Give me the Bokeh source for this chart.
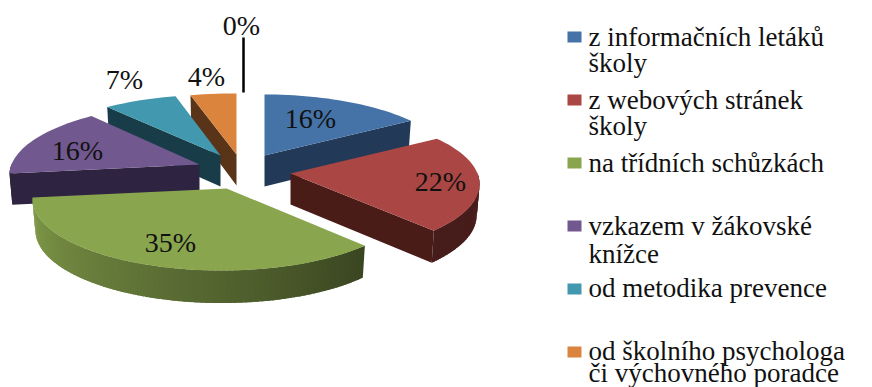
import math
from bokeh.core.properties import value
from bokeh.embed import file_html
from bokeh.models import ColumnDataSource, Range1d
from bokeh.plotting import figure
from bokeh.resources import INLINE

# Survey shares, in percent, clockwise from twelve o'clock
shares = [16, 22, 35, 16, 7, 4, 0]
share_labels = [f"{s}%" for s in shares]
legend_entries = [
    ["z informačních letáků", "školy"],
    ["z webových stránek", "školy"],
    ["na třídních schůzkách"],
    ["vzkazem v žákovské", "knížce"],
    ["od metodika prevence"],
    ["od školního psychologa", "či výchovného poradce"],
]

# Palette: top face and the darker radial wall of each slice
top_colors = ["#4573A7", "#AA4643", "#89A54E", "#71588F", "#4198AF", "#DB843D"]
wall_colors = ["#223A57", "#4A1C18", "#3A4520", "#2E2340", "#193D48", "#5A3419"]
# Brightness of the rim at the start and end of each slice's sweep
rim_shade = [(.5, .5), (.42, .42), (.42, .95), (.42, .42), (.42, .42), (.42, .42)]

# Pie layout in page pixels
W, H = 872, 387
CX, CY = 245, 165
RX, RY, PERSP = 187, 70, 0.147
DEPTH = 31
PULL_X = [19, 45, -19, -46, -25, -9]
PULL_Y = [-10, 8, 23, -1, -10, -11]
ARC_SHIFT = [0, 0, -5, -1, -3, 0]
ARC_WIDEN = [1, 1, 1, 1, 1.03, 1.13]
DRAW_ORDER = [5, 0, 4, 3, 1, 2]
LABEL_X = [310, 440, 170, 77, 124, 206, 241]
LABEL_Y = [118, 181, 242, 150, 79, 76, 25]
LEGEND_SWATCH_Y = [31, 94, 157, 220, 283, 346]
LEGEND_BASE = [[36, 62], [99, 125], [162], [225, 253], [287], [350, 372]]
SERIF = "Liberation Serif"

p = figure(width=W, height=H, output_backend="svg", toolbar_location=None,
           x_range=Range1d(0, W), y_range=Range1d(H, 0),
           min_border=0, outline_line_color=None, background_fill_color="white")
p.axis.visible = False
p.grid.visible = False


def project(i, ax, ay, deg):
    """Place a rim point of slice i, given its bearing, on the page."""
    a = math.radians(deg)
    x, y = math.sin(a), math.cos(a)
    s = 1 + PERSP * y
    return ax + ARC_SHIFT[i] + RX * ARC_WIDEN[i] * x / s, ay - RY * y / s, y


def drop(ax, px, py, y):
    """Same point on the lower rim of the extruded slice."""
    return ax + (px - ax) * 0.985, py + DEPTH - 1.5 * y


def shade(hex_color, f):
    r, g, b = (int(hex_color[i:i + 2], 16) for i in (1, 3, 5))
    return "#%02x%02x%02x" % (round(r * f), round(g * f), round(b * f))


xs, ys, fills = [], [], []
totals = [sum(shares[:i]) for i in range(len(shares))]
for i in DRAW_ORDER:
    start = totals[i] * 3.6
    end = start + shares[i] * 3.6
    ax, ay = CX + PULL_X[i], CY + PULL_Y[i]

    # radial walls that face the viewer
    for deg, show in ((start, math.sin(math.radians(start)) < 0),
                      (end, math.sin(math.radians(end)) > 0)):
        if show:
            px, py, y = project(i, ax, ay, deg)
            qx, qy = drop(ax, px, py, y)
            xs.append([ax, px, qx, ax])
            ys.append([ay, py, qy, ay + DEPTH])
            fills.append(wall_colors[i])

    # rim, in overlapping strips so its shading can vary along the sweep
    steps = max(2, int((end - start) / 1.5))
    width = (end - start) / steps
    for k in range(steps):
        a0 = start + width * k
        a1 = min(end, a0 + width * 1.8)
        if not 90 <= a0 + width / 2 <= 270:
            continue
        x0, y0, v0 = project(i, ax, ay, a0)
        x1, y1, v1 = project(i, ax, ay, a1)
        lx0, ly0 = drop(ax, x0, y0, v0)
        lx1, ly1 = drop(ax, x1, y1, v1)
        f = rim_shade[i][0] + (rim_shade[i][1] - rim_shade[i][0]) * (k + .5) / steps
        xs.append([x0, x1, lx1, lx0])
        ys.append([y0, y1, ly1, ly0])
        fills.append(shade(top_colors[i], f))

    # top face
    steps = max(2, int((end - start) / 2))
    outline = [project(i, ax, ay, start + (end - start) * k / steps) for k in range(steps + 1)]
    xs.append([ax] + [q[0] for q in outline])
    ys.append([ay] + [q[1] for q in outline])
    fills.append(top_colors[i])

p.patches("x", "y", fill_color="c", line_color=None,
          source=ColumnDataSource(dict(x=xs, y=ys, c=fills)))

# Leader of the empty slice
p.segment([243], [37], [243], [92], line_color="black", line_width=2.5)

# Value labels
p.text(LABEL_X, LABEL_Y, text=share_labels, text_font=value(SERIF),
       text_font_size="28px", text_color="#111111",
       text_align="center", text_baseline="middle")

# Legend
p.quad(left=[567] * 6, right=[581] * 6, top=LEGEND_SWATCH_Y,
       bottom=[y + 11 for y in LEGEND_SWATCH_Y], fill_color=top_colors, line_color=None)
for entry, bases in zip(legend_entries, LEGEND_BASE):
    p.text([588] * len(entry), bases, text=entry, text_font=value(SERIF),
           text_font_size="27px", text_color="#111111",
           text_align="left", text_baseline="alphabetic")

open("out.html", "w").write(file_html(p, INLINE))
